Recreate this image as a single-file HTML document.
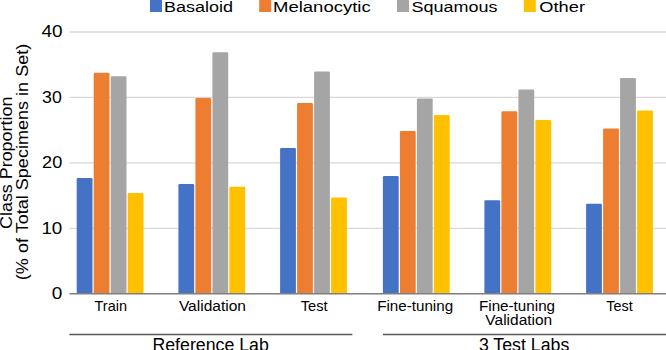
<!DOCTYPE html>
<html><head><meta charset="utf-8"><style>
html,body{margin:0;padding:0;background:#fff;width:666px;height:350px;overflow:hidden}
svg{display:block}
text{font-family:"Liberation Sans", sans-serif;fill:#000000;stroke:#000000;stroke-width:0.0px}
</style></head><body>
<svg width="666" height="350" viewBox="0 0 666 350">
<rect x="0" y="0" width="666" height="350" fill="#ffffff"/>
<line x1="69.5" y1="228.35" x2="666" y2="228.35" stroke="#D9D9D9" stroke-width="1.3"/>
<line x1="69.5" y1="162.90" x2="666" y2="162.90" stroke="#D9D9D9" stroke-width="1.3"/>
<line x1="69.5" y1="97.45" x2="666" y2="97.45" stroke="#D9D9D9" stroke-width="1.3"/>
<line x1="69.5" y1="32.00" x2="666" y2="32.00" stroke="#D9D9D9" stroke-width="1.3"/>
<path d="M76.70,293.8 V179.30 Q76.70,178.10 77.90,178.10 H91.30 Q92.50,178.10 92.50,179.30 V293.8 Z" fill="#4472C4"/>
<path d="M93.70,293.8 V74.00 Q93.70,72.80 94.90,72.80 H108.30 Q109.50,72.80 109.50,74.00 V293.8 Z" fill="#ED7D31"/>
<path d="M110.70,293.8 V77.50 Q110.70,76.30 111.90,76.30 H125.30 Q126.50,76.30 126.50,77.50 V293.8 Z" fill="#A5A5A5"/>
<path d="M127.70,293.8 V194.10 Q127.70,192.90 128.90,192.90 H142.30 Q143.50,192.90 143.50,194.10 V293.8 Z" fill="#FFC000"/>
<path d="M178.40,293.8 V185.20 Q178.40,184.00 179.60,184.00 H193.00 Q194.20,184.00 194.20,185.20 V293.8 Z" fill="#4472C4"/>
<path d="M195.40,293.8 V99.30 Q195.40,98.10 196.60,98.10 H210.00 Q211.20,98.10 211.20,99.30 V293.8 Z" fill="#ED7D31"/>
<path d="M212.40,293.8 V53.40 Q212.40,52.20 213.60,52.20 H227.00 Q228.20,52.20 228.20,53.40 V293.8 Z" fill="#A5A5A5"/>
<path d="M229.40,293.8 V188.00 Q229.40,186.80 230.60,186.80 H244.00 Q245.20,186.80 245.20,188.00 V293.8 Z" fill="#FFC000"/>
<path d="M280.10,293.8 V149.20 Q280.10,148.00 281.30,148.00 H294.70 Q295.90,148.00 295.90,149.20 V293.8 Z" fill="#4472C4"/>
<path d="M297.10,293.8 V104.20 Q297.10,103.00 298.30,103.00 H311.70 Q312.90,103.00 312.90,104.20 V293.8 Z" fill="#ED7D31"/>
<path d="M314.10,293.8 V72.80 Q314.10,71.60 315.30,71.60 H328.70 Q329.90,71.60 329.90,72.80 V293.8 Z" fill="#A5A5A5"/>
<path d="M331.10,293.8 V198.80 Q331.10,197.60 332.30,197.60 H345.70 Q346.90,197.60 346.90,198.80 V293.8 Z" fill="#FFC000"/>
<path d="M382.90,293.8 V177.30 Q382.90,176.10 384.10,176.10 H397.50 Q398.70,176.10 398.70,177.30 V293.8 Z" fill="#4472C4"/>
<path d="M399.90,293.8 V132.10 Q399.90,130.90 401.10,130.90 H414.50 Q415.70,130.90 415.70,132.10 V293.8 Z" fill="#ED7D31"/>
<path d="M416.90,293.8 V99.60 Q416.90,98.40 418.10,98.40 H431.50 Q432.70,98.40 432.70,99.60 V293.8 Z" fill="#A5A5A5"/>
<path d="M433.90,293.8 V116.30 Q433.90,115.10 435.10,115.10 H448.50 Q449.70,115.10 449.70,116.30 V293.8 Z" fill="#FFC000"/>
<path d="M484.40,293.8 V201.50 Q484.40,200.30 485.60,200.30 H499.00 Q500.20,200.30 500.20,201.50 V293.8 Z" fill="#4472C4"/>
<path d="M501.40,293.8 V112.40 Q501.40,111.20 502.60,111.20 H516.00 Q517.20,111.20 517.20,112.40 V293.8 Z" fill="#ED7D31"/>
<path d="M518.40,293.8 V90.80 Q518.40,89.60 519.60,89.60 H533.00 Q534.20,89.60 534.20,90.80 V293.8 Z" fill="#A5A5A5"/>
<path d="M535.40,293.8 V121.30 Q535.40,120.10 536.60,120.10 H550.00 Q551.20,120.10 551.20,121.30 V293.8 Z" fill="#FFC000"/>
<path d="M586.10,293.8 V204.90 Q586.10,203.70 587.30,203.70 H600.70 Q601.90,203.70 601.90,204.90 V293.8 Z" fill="#4472C4"/>
<path d="M603.10,293.8 V129.60 Q603.10,128.40 604.30,128.40 H617.70 Q618.90,128.40 618.90,129.60 V293.8 Z" fill="#ED7D31"/>
<path d="M620.10,293.8 V79.20 Q620.10,78.00 621.30,78.00 H634.70 Q635.90,78.00 635.90,79.20 V293.8 Z" fill="#A5A5A5"/>
<path d="M637.10,293.8 V111.60 Q637.10,110.40 638.30,110.40 H651.70 Q652.90,110.40 652.90,111.60 V293.8 Z" fill="#FFC000"/>
<line x1="69.5" y1="293.8" x2="666" y2="293.8" stroke="#7F7F7F" stroke-width="1.6"/>
<line x1="69.4" y1="334.4" x2="352.4" y2="334.4" stroke="#595959" stroke-width="1.5"/>
<line x1="383" y1="334.4" x2="666" y2="334.4" stroke="#595959" stroke-width="1.5"/>
<rect x="150.0" y="0" width="12" height="12" fill="#4472C4"/>
<rect x="259.2" y="0" width="12" height="12" fill="#ED7D31"/>
<rect x="397.0" y="0" width="12" height="12" fill="#A5A5A5"/>
<rect x="523.8" y="0" width="12" height="12" fill="#FFC000"/>
<text x="163.99" y="11.90" font-size="15.5" textLength="69.04" lengthAdjust="spacingAndGlyphs">Basaloid</text>
<text x="273.00" y="11.90" font-size="15.5" textLength="97.73" lengthAdjust="spacingAndGlyphs">Melanocytic</text>
<text x="411.61" y="11.90" font-size="15.5" textLength="85.92" lengthAdjust="spacingAndGlyphs">Squamous</text>
<text x="539.34" y="11.90" font-size="15.5" textLength="45.66" lengthAdjust="spacingAndGlyphs">Other</text>
<text x="41.51" y="37.30" font-size="16.5" textLength="21.07" lengthAdjust="spacingAndGlyphs">40</text>
<text x="42.13" y="102.75" font-size="16.5" textLength="19.73" lengthAdjust="spacingAndGlyphs">30</text>
<text x="42.14" y="168.20" font-size="16.5" textLength="20.14" lengthAdjust="spacingAndGlyphs">20</text>
<text x="41.41" y="233.65" font-size="16.5" textLength="20.85" lengthAdjust="spacingAndGlyphs">10</text>
<text x="51.87" y="299.10" font-size="16.5" textLength="10.56" lengthAdjust="spacingAndGlyphs">0</text>
<text x="94.54" y="311.20" font-size="14" textLength="32.46" lengthAdjust="spacingAndGlyphs">Train</text>
<text x="178.90" y="311.20" font-size="14" textLength="67.09" lengthAdjust="spacingAndGlyphs">Validation</text>
<text x="300.79" y="311.20" font-size="14" textLength="26.86" lengthAdjust="spacingAndGlyphs">Test</text>
<text x="377.20" y="311.20" font-size="14" textLength="75.92" lengthAdjust="spacingAndGlyphs">Fine-tuning</text>
<text x="478.99" y="311.20" font-size="14" textLength="76.07" lengthAdjust="spacingAndGlyphs">Fine-tuning</text>
<text x="485.38" y="324.80" font-size="14" textLength="66.86" lengthAdjust="spacingAndGlyphs">Validation</text>
<text x="606.32" y="311.20" font-size="14" textLength="26.31" lengthAdjust="spacingAndGlyphs">Test</text>
<text x="152.44" y="350.70" font-size="18" textLength="116.40" lengthAdjust="spacingAndGlyphs">Reference Lab</text>
<text x="478.90" y="350.70" font-size="18" textLength="90.38" lengthAdjust="spacingAndGlyphs">3 Test Labs</text>
<g transform="translate(12.00,228.97) rotate(-90)"><text x="0" y="0" font-size="16" textLength="132.31" lengthAdjust="spacingAndGlyphs">Class Proportion</text></g>
<g transform="translate(27.70,280.14) rotate(-90)"><text x="0" y="0" font-size="16" textLength="236.36" lengthAdjust="spacingAndGlyphs">(% of Total Specimens in Set)</text></g>
</svg>
</body></html>
